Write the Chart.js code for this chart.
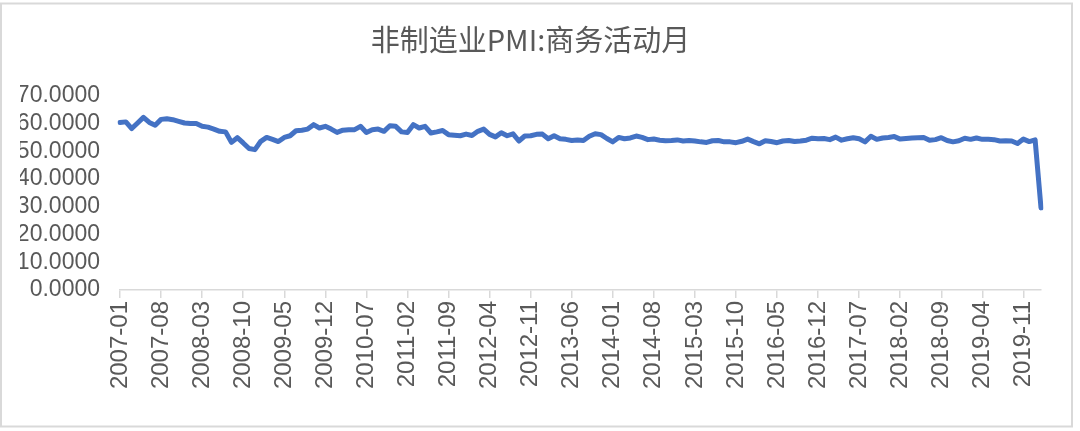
<!DOCTYPE html>
<html>
<head>
<meta charset="utf-8">
<script src="https://cdn.jsdelivr.net/npm/chart.js@4.4.1/dist/chart.umd.min.js"></script>
<style>
  html, body { margin: 0; padding: 0; background: #ffffff; }
  #wrap { position: relative; width: 1080px; height: 431px; }
  canvas { display: block; }
</style>
</head>
<body>
<div id="wrap"><canvas id="c" width="1080" height="431"></canvas></div>
<script>
const chartTitle = '非制造业PMI:商务活动月';

const categories = [
  '2007-01','2007-02','2007-03','2007-04','2007-05','2007-06','2007-07','2007-08','2007-09','2007-10','2007-11','2007-12',
  '2008-01','2008-02','2008-03','2008-04','2008-05','2008-06','2008-07','2008-08','2008-09','2008-10','2008-11','2008-12',
  '2009-01','2009-02','2009-03','2009-04','2009-05','2009-06','2009-07','2009-08','2009-09','2009-10','2009-11','2009-12',
  '2010-01','2010-02','2010-03','2010-04','2010-05','2010-06','2010-07','2010-08','2010-09','2010-10','2010-11','2010-12',
  '2011-01','2011-02','2011-03','2011-04','2011-05','2011-06','2011-07','2011-08','2011-09','2011-10','2011-11','2011-12',
  '2012-01','2012-02','2012-03','2012-04','2012-05','2012-06','2012-07','2012-08','2012-09','2012-10','2012-11','2012-12',
  '2013-01','2013-02','2013-03','2013-04','2013-05','2013-06','2013-07','2013-08','2013-09','2013-10','2013-11','2013-12',
  '2014-01','2014-02','2014-03','2014-04','2014-05','2014-06','2014-07','2014-08','2014-09','2014-10','2014-11','2014-12',
  '2015-01','2015-02','2015-03','2015-04','2015-05','2015-06','2015-07','2015-08','2015-09','2015-10','2015-11','2015-12',
  '2016-01','2016-02','2016-03','2016-04','2016-05','2016-06','2016-07','2016-08','2016-09','2016-10','2016-11','2016-12',
  '2017-01','2017-02','2017-03','2017-04','2017-05','2017-06','2017-07','2017-08','2017-09','2017-10','2017-11','2017-12',
  '2018-01','2018-02','2018-03','2018-04','2018-05','2018-06','2018-07','2018-08','2018-09','2018-10','2018-11','2018-12',
  '2019-01','2019-02','2019-03','2019-04','2019-05','2019-06','2019-07','2019-08','2019-09','2019-10','2019-11','2019-12',
  '2020-01','2020-02'
];

const pmiValues = [
  60.4, 60.6, 58.2, 60.2, 62.2, 60.4, 59.4, 61.5, 61.7, 61.4, 60.8, 60.2,
  60.0, 60.0, 59.0, 58.7, 58.0, 57.2, 57.0, 53.2, 54.9, 53.0, 51.0, 50.6,
  53.6, 55.0, 54.3, 53.5, 55.0, 55.6, 57.4, 57.6, 58.0, 59.6, 58.4, 59.0,
  58.0, 56.8, 57.6, 57.8, 57.8, 59.0, 56.8, 57.8, 58.0, 57.2, 59.2, 59.0,
  57.0, 56.8, 59.6, 58.4, 59.0, 56.6, 57.0, 57.5, 56.0, 55.8, 55.6, 56.2,
  55.7, 57.2, 58.0, 56.1, 55.2, 56.7, 55.6, 56.3, 53.7, 55.5, 55.6, 56.1,
  56.2, 54.5, 55.6, 54.5, 54.3, 53.9, 54.1, 53.9, 55.4, 56.3, 56.0, 54.6,
  53.4, 55.0, 54.5, 54.8, 55.5, 55.0, 54.2, 54.4, 54.0, 53.8, 53.9, 54.1,
  53.7, 53.9, 53.7, 53.4, 53.2, 53.8, 53.9, 53.4, 53.4, 53.1, 53.6, 54.4,
  53.5, 52.7, 53.8, 53.5, 53.1, 53.7, 53.9, 53.5, 53.7, 54.0, 54.7, 54.5,
  54.6, 54.2, 55.1, 54.0, 54.5, 54.9, 54.5, 53.4, 55.4, 54.3, 54.8, 55.0,
  55.3, 54.4, 54.6, 54.8, 54.9, 55.0, 54.0, 54.2, 54.9, 53.9, 53.4, 53.8,
  54.7, 54.3, 54.8, 54.3, 54.3, 54.2, 53.7, 53.8, 53.7, 52.8, 54.4, 53.5,
  54.1, 29.6
];

const yMin = 0, yMax = 70, yStep = 10;
const labelEvery = 7;
const tickFont = '"Liberation Sans", Arial, sans-serif';

const frame = {
  id: 'frame',
  beforeDraw(chart) {
    const ctx = chart.ctx;
    ctx.save();
    ctx.fillStyle = '#ffffff';
    ctx.fillRect(0, 0, chart.width, chart.height);
    ctx.strokeStyle = '#d9d9d9';
    ctx.lineWidth = 2;
    ctx.strokeRect(1, 3.5, 1071, 423);
    ctx.restore();
  }
};

new Chart(document.getElementById('c'), {
  type: 'line',
  data: {
    labels: categories,
    datasets: [{
      label: chartTitle,
      data: pmiValues,
      borderColor: '#4472C4',
      backgroundColor: '#4472C4',
      borderWidth: 5,
      pointRadius: 0,
      tension: 0,
      borderJoinStyle: 'round',
      borderCapStyle: 'round',
      fill: false
    }]
  },
  options: {
    responsive: false,
    animation: false,
    devicePixelRatio: 1,
    layout: { padding: { left: 20, right: 39, top: 0, bottom: 0 } },
    plugins: {
      legend: { display: false },
      tooltip: { enabled: false },
      title: {
        display: true,
        text: chartTitle,
        color: '#595959',
        font: { family: '"Noto Sans CJK SC", "Noto Sans", sans-serif', size: 29, weight: 'normal' },
        padding: { top: 23, bottom: 38 }
      }
    },
    scales: {
      x: {
        type: 'category',
        offset: false,
        afterFit: function(scale) { scale.height = 141; },
        grid: {
          display: true,
          drawOnChartArea: false,
          drawTicks: true,
          tickLength: 8,
          color: '#d9d9d9',
          lineWidth: 1.5
        },
        border: { display: true, color: '#d9d9d9', width: 1.5 },
        ticks: {
          autoSkip: false,
          maxRotation: 90,
          minRotation: 90,
          padding: 3,
          color: '#595959',
          font: { family: tickFont, size: 24 },
          callback: function(val, idx) {
            return idx % labelEvery === 0 ? categories[idx] : null;
          }
        }
      },
      y: {
        min: yMin,
        max: yMax,
        afterFit: function(scale) { scale.width = 100; },
        grid: { display: false, drawTicks: false },
        border: { display: false },
        ticks: {
          autoSkip: false,
          stepSize: yStep,
          padding: 20,
          color: '#595959',
          font: { family: tickFont, size: 23 },
          callback: function(v) { return Number(v).toFixed(4); }
        }
      }
    }
  },
  plugins: [frame]
});
</script>
</body>
</html>
